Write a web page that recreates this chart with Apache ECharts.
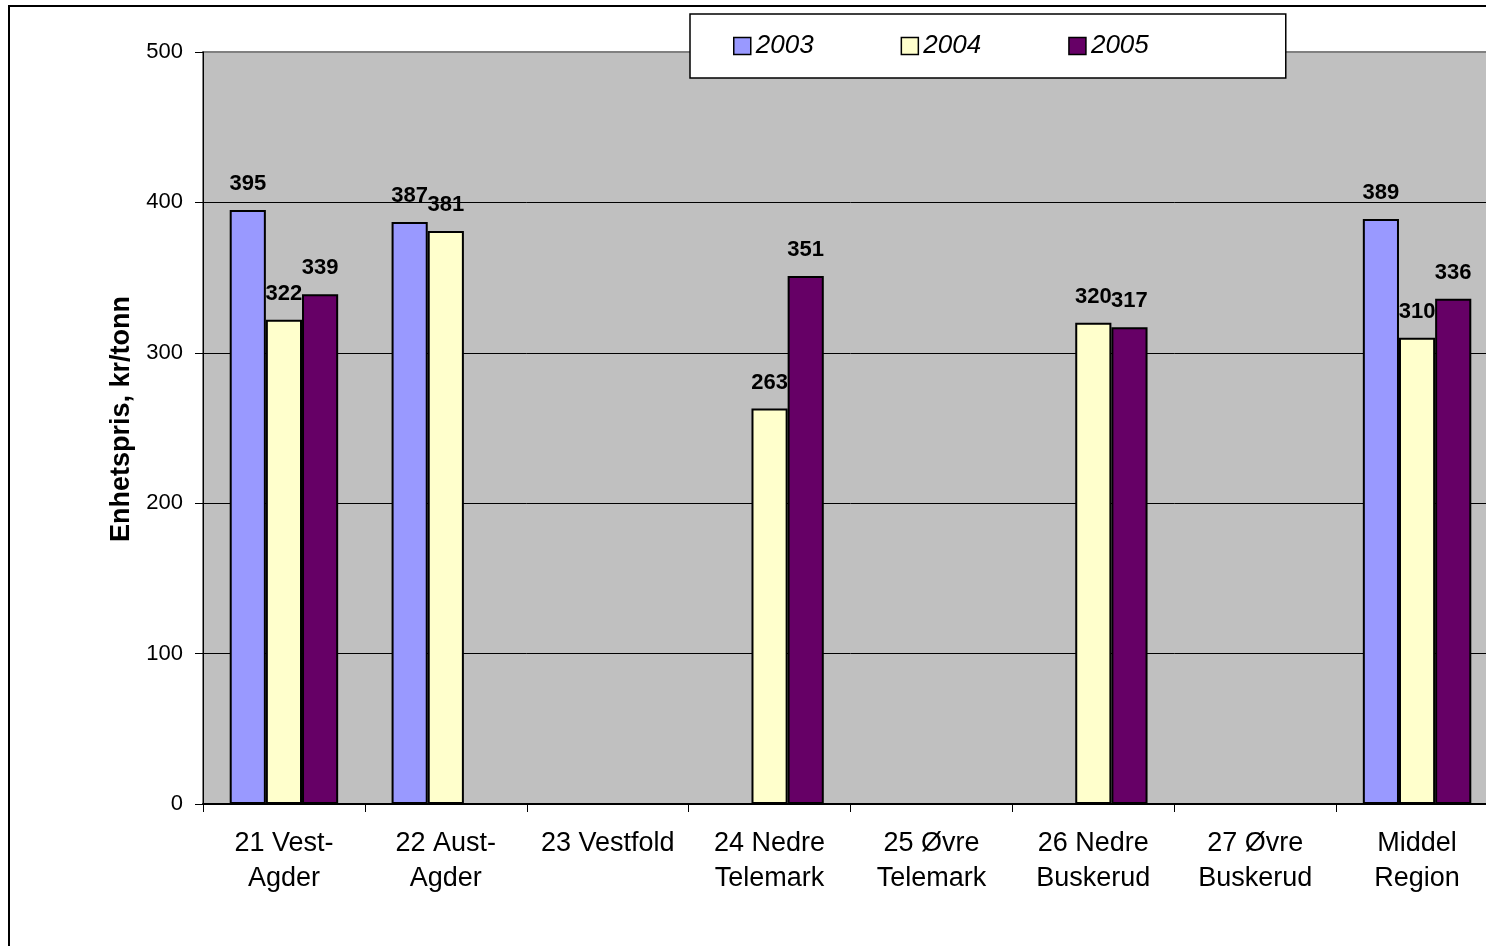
<!DOCTYPE html>
<html>
<head>
<meta charset="utf-8">
<script src="https://cdn.jsdelivr.net/npm/echarts@6/dist/echarts.min.js"></script>
<style>
  html, body { margin: 0; padding: 0; background: #fff; overflow: hidden; }
  #chart { width: 1510px; height: 946px; }
</style>
</head>
<body>
<div id="chart"></div>
<script>
// data
const categories = [
  "21 Vest-\nAgder", "22 Aust-\nAgder", "23 Vestfold", "24 Nedre\nTelemark",
  "25 Øvre\nTelemark", "26 Nedre\nBuskerud", "27 Øvre\nBuskerud", "Middel\nRegion"
];
const years = ["2003", "2004", "2005"];
const values2003 = [395, 387, null, null, null, null, null, 389];
const values2004 = [322, 381, null, 263, null, 320, null, 310];
const values2005 = [339, null, null, 351, null, 317, null, 336];
const yTicks = [0, 100, 200, 300, 400, 500];

const colors = ["#9999FF", "#FFFFCC", "#660066"];
const font = "Liberation Sans, Arial, sans-serif";

// the chart is a bit wider than the window: the plot runs past the right edge
const chart = echarts.init(document.getElementById("chart"));

// same style for every series
const makeSeries = (name, data, color) => ({
  name: name,
  type: "bar",
  data: data,
  barGap: "0%",
  barCategoryGap: "33%",
  itemStyle: { color: color, borderColor: "#000", borderWidth: 2 },
  label: {
    show: true,
    position: "top",
    distance: 15,
    color: "#000",
    fontFamily: font,
    fontWeight: "bold",
    fontSize: 22,
  },
});

chart.setOption({
  animation: false,
  textStyle: { fontFamily: font },
  graphic: [
    {
      type: "rect",
      shape: { x: 9, y: 6, width: 1520, height: 960 },
      style: { fill: null, stroke: "#000", lineWidth: 2 },
      z: 100,
    },
  ],
  legend: {
    left: 690,
    top: 14,
    padding: [19, 137, 19, 43],
    itemGap: 87,
    itemWidth: 17,
    itemHeight: 17,
    itemStyle: { borderColor: "#000", borderWidth: 1.5 },
    backgroundColor: "#fff",
    borderColor: "#000",
    borderWidth: 1.5,
    data: years.map((y) => ({ name: y, icon: "rect" })),
    textStyle: {
      fontFamily: font,
      fontStyle: "italic",
      fontSize: 26,
      color: "#000",
    },
  },
  grid: {
    left: 203,
    right: 12,
    top: 52,
    bottom: 142,
    show: true,
    backgroundColor: "#C0C0C0",
    borderColor: "#808080",
    borderWidth: 2,
  },
  xAxis: {
    type: "category",
    data: categories,
    axisLine: { show: true, lineStyle: { color: "#000", width: 2 } },
    axisTick: { show: true, length: 8, lineStyle: { color: "#000", width: 1 } },
    axisLabel: {
      color: "#000",
      fontSize: 27,
      lineHeight: 35,
      margin: 22,
      interval: 0,
    },
  },
  yAxis: {
    type: "value",
    min: 0,
    max: 500,
    interval: 100,
    name: "Enhetspris, kr/tonn",
    nameLocation: "middle",
    nameGap: 64,
    nameRotate: 90,
    nameTextStyle: {
      color: "#000",
      fontSize: 27,
      fontWeight: "bold",
      padding: [0, 0, 0, 18],
    },
    axisLine: { show: true, lineStyle: { color: "#000", width: 1 } },
    axisTick: { show: true, length: 8, lineStyle: { color: "#000" } },
    axisLabel: {
      color: "#000",
      fontSize: 22,
      margin: 20,
      formatter: (v) => (yTicks.includes(v) ? String(v) : ""),
    },
    splitLine: {
      show: true,
      lineStyle: {
        color: ["#000", "#000", "#000", "#000", "#000", "#808080"],
        width: 1,
      },
    },
  },
  series: [
    makeSeries(years[0], values2003, colors[0]),
    makeSeries(years[1], values2004, colors[1]),
    makeSeries(years[2], values2005, colors[2]),
  ],
});
</script>
</body>
</html>
